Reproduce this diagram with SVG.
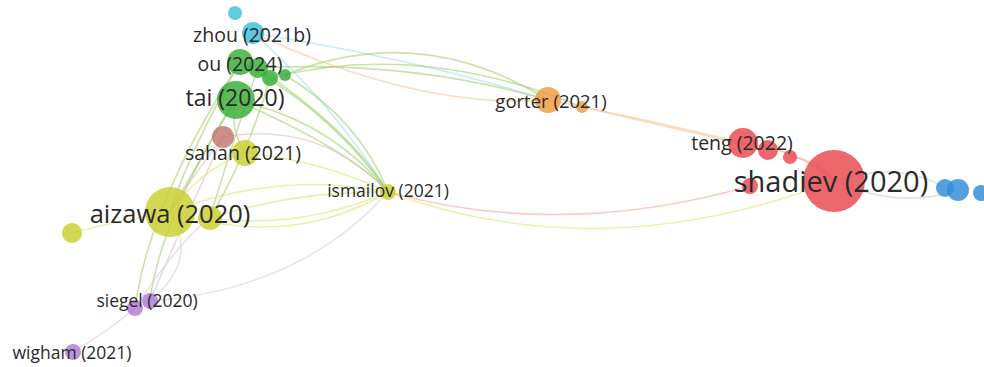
<svg xmlns="http://www.w3.org/2000/svg" width="984" height="367" viewBox="0 0 984 367">
<style>
text{font-family:"Open Sans","Noto Sans","Liberation Sans",sans-serif;fill:#2a2a2a;text-anchor:middle;dominant-baseline:central}
.e{fill:none;stroke-width:1.6;stroke-opacity:.55}
.g{stroke:#9ccc65}.y{stroke:#dde36a}.r{stroke:#f4a39a}.o{stroke:#f5c08e}.p{stroke:#d8c8e0}.b{stroke:#b8c8e8}.c{stroke:#a6dde8}.br{stroke:#dcbcb4}
.gn{fill:#34ad34}.yn{fill:#c9cf2e}.rn{fill:#e8474d}.on{fill:#f29a3c}.pn{fill:#b07ad8}.bn{fill:#2f8bd8}.cn{fill:#3cc0da}.brn{fill:#c0766c}
circle{fill-opacity:.82}
</style>
<rect width="984" height="367" fill="#fff"/>
<g id="edges">
<path class="e c" d="M253,33 Q420,60 548,100"/>
<path class="e c" d="M253,33 Q330,100 388,192"/>
<path class="e g" d="M285,75 Q420,20 548,100"/>
<path class="e g" d="M270,78 Q420,40 582,107"/>
<path class="e g" d="M258,68 Q410,60 548,100"/>
<path class="e g" d="M240,62 Q330,110 388,192"/>
<path class="e g" d="M235,100 Q330,120 388,192"/>
<path class="e g" d="M258,68 Q350,130 388,192"/>
<path class="e g" d="M285,75 Q360,120 388,192"/>
<path class="e g" d="M235,100 Q200,160 170,212"/>
<path class="e g" d="M240,62 Q190,150 170,212"/>
<path class="e g" d="M258,68 Q230,150 210,218"/>
<path class="e g" d="M235,100 Q230,130 245,153"/>
<path class="e g" d="M240,62 Q150,200 135,308"/>
<path class="e g" d="M235,100 Q160,220 150,301"/>
<path class="e g" d="M235,100 Q350,150 388,192"/>
<path class="e g" d="M270,78 Q250,150 210,218"/>
<path class="e o" d="M548,100 Q650,120 743,143"/>
<path class="e o" d="M582,107 Q680,130 768,150"/>
<path class="e o" d="M548,100 Q420,110 253,33"/>
<path class="e br" d="M223,137 Q320,120 388,192"/>
<path class="e br" d="M223,137 Q190,180 170,212"/>
<path class="e br" d="M223,137 Q180,230 150,301"/>
<path class="e y" d="M245,153 Q320,160 388,192"/>
<path class="e y" d="M170,212 Q280,170 388,192"/>
<path class="e y" d="M170,212 Q290,250 388,192"/>
<path class="e y" d="M210,218 Q300,190 388,192" stroke-width="2.5"/>
<path class="e y" d="M210,218 Q300,230 388,192"/>
<path class="e y" d="M170,212 Q200,170 245,153"/>
<path class="e y" d="M72,233 Q120,220 170,212"/>
<path class="e y" d="M388,192 Q600,270 834,181"/>
<path class="e r" d="M388,192 Q560,240 750,186"/>
<path class="e r" d="M743,143 Q800,150 834,181"/>
<path class="e r" d="M790,157 Q820,160 834,181"/>
<path class="e p" d="M150,301 Q300,290 388,192"/>
<path class="e p" d="M150,301 Q200,260 170,212"/>
<path class="e p" d="M135,308 Q180,240 210,218"/>
<path class="e p" d="M135,308 Q110,330 73,352"/>
<path class="e b" d="M834,181 Q900,160 945,188"/>
<path class="e b" d="M834,181 Q900,210 958,190"/>
</g>
<g id="n-zhou-small"><circle class="cn" cx="235" cy="13" r="7"/></g>
<g id="n-zhou"><circle class="cn" cx="253" cy="33" r="11"/><text x="252" y="34" font-size="19.5">zhou (2021b)</text></g>
<g id="n-ou"><circle class="gn" cx="285" cy="75" r="6"/><circle class="gn" cx="270" cy="78" r="8"/><circle class="gn" cx="258" cy="68" r="10"/><circle class="gn" cx="240" cy="62" r="13"/><text x="240" y="63" font-size="19.5">ou (2024)</text></g>
<g id="n-tai"><circle class="gn" cx="236" cy="100" r="19"/><text x="235" y="97" font-size="23">tai (2020)</text></g>
<g id="n-brown"><circle class="brn" cx="223" cy="137" r="11"/></g>
<g id="n-sahan"><circle class="yn" cx="245" cy="153" r="13"/><text x="243" y="152" font-size="19.5">sahan (2021)</text></g>
<g id="n-aizawa"><circle class="yn" cx="210" cy="218" r="12"/><circle class="yn" cx="170" cy="212" r="25"/><text x="170" y="213" font-size="25.5">aizawa (2020)</text></g>
<g id="n-yellow-small"><circle class="yn" cx="72" cy="233" r="10"/></g>
<g id="n-ismailov"><circle class="yn" cx="388" cy="192" r="8"/><text x="388" y="190" font-size="17.5">ismailov (2021)</text></g>
<g id="n-siegel"><circle class="pn" cx="135" cy="308" r="8"/><circle class="pn" cx="150" cy="301" r="8"/><text x="147" y="300" font-size="17.5">siegel (2020)</text></g>
<g id="n-wigham"><circle class="pn" cx="73" cy="352" r="8"/><text x="72" y="352" font-size="17.5">wigham (2021)</text></g>
<g id="n-gorter"><circle class="on" cx="582" cy="107" r="6"/><circle class="on" cx="548" cy="100" r="13"/><text x="551" y="100" font-size="18.5">gorter (2021)</text></g>
<g id="n-teng"><circle class="rn" cx="790" cy="157" r="7"/><circle class="rn" cx="768" cy="150" r="10"/><circle class="rn" cx="743" cy="143" r="15"/><text x="742" y="142" font-size="19.5">teng (2022)</text></g>
<g id="n-shadiev"><circle class="rn" cx="750" cy="186" r="8"/><circle class="rn" cx="834" cy="181" r="31"/><text x="831" y="180" font-size="29">shadiev (2020)</text></g>
<g id="n-blue"><circle class="bn" cx="945" cy="188" r="9"/><circle class="bn" cx="958" cy="190" r="11"/><circle class="bn" cx="981" cy="193" r="8"/></g>
</svg>
